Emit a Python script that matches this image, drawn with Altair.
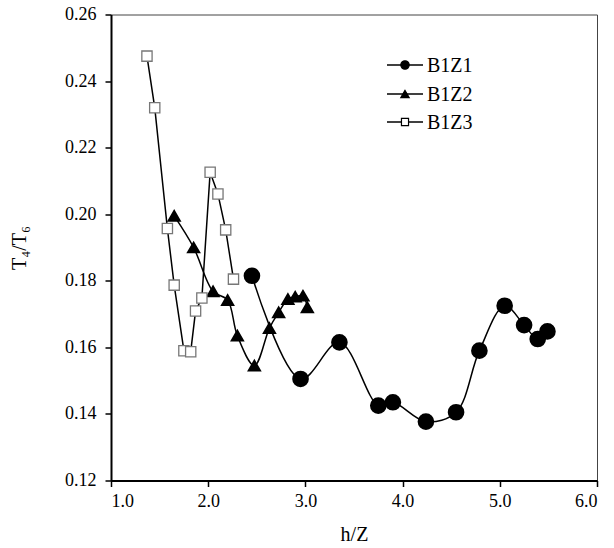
import altair as alt
import pandas as pd

# Series read as h/Z against T4/T6
b1z1_h = [2.45, 2.95, 3.35, 3.75, 3.90, 4.24, 4.55, 4.79, 5.05, 5.25, 5.39, 5.49]
b1z1_t = [0.1815, 0.1505, 0.1615, 0.1425, 0.1435, 0.1377, 0.1405, 0.1590, 0.1725, 0.1667, 0.1625, 0.1648]

b1z2_h = [1.65, 1.85, 2.05, 2.20, 2.30, 2.475, 2.63, 2.725, 2.82, 2.895, 2.975, 3.02]
b1z2_t = [0.1995, 0.1900, 0.1768, 0.1742, 0.1635, 0.1545, 0.1658, 0.1705, 0.1745, 0.1752, 0.1755, 0.1720]

b1z3_h = [1.37, 1.45, 1.58, 1.65, 1.75, 1.82, 1.87, 1.935, 2.02, 2.10, 2.18, 2.26]
b1z3_t = [0.2475, 0.2320, 0.1957, 0.1787, 0.1590, 0.1587, 0.1709, 0.1748, 0.2126, 0.2061, 0.1953, 0.1805]

x_ticks = [1.0, 2.0, 3.0, 4.0, 5.0, 6.0]
y_ticks = [0.12, 0.14, 0.16, 0.18, 0.20, 0.22, 0.24, 0.26]
series_names = ["B1Z1", "B1Z2", "B1Z3"]

FONT = "Liberation Serif"
W, H = 486, 466


def table(name, hs, ts):
    return pd.DataFrame({"series": name, "h": hs, "t": ts, "idx": range(len(hs))})


d1 = table("B1Z1", b1z1_h, b1z1_t)
d2 = table("B1Z2", b1z2_h, b1z2_t)
d3 = table("B1Z3", b1z3_h, b1z3_t)

x_enc = alt.X(
    "h:Q",
    scale=alt.Scale(domain=[1, 6], nice=False, zero=False),
    axis=alt.Axis(
        values=x_ticks, format=".1f", title="h/Z", grid=False,
        domainColor="black", domainWidth=2, tickColor="black", tickWidth=1.5,
        tickSize=6, labelFont=FONT, labelFontSize=18, labelColor="black",
        labelPadding=6, titleFont=FONT, titleFontSize=20, titleFontWeight="normal",
        titleColor="black", titleY=60, titleBaseline="alphabetic",
    ),
)
y_enc = alt.Y(
    "t:Q",
    scale=alt.Scale(domain=[0.12, 0.26], nice=False, zero=False),
    axis=alt.Axis(
        values=y_ticks, format=".2f", title="T₄/T₆", grid=False,
        domainColor="black", domainWidth=2, tickColor="black", tickWidth=1.5,
        tickSize=6, labelFont=FONT, labelFontSize=18, labelColor="black",
        labelPadding=9, titleFont=FONT, titleFontSize=20, titleFontWeight="normal",
        titleColor="black", titleX=-92, titleY=H / 2, titleBaseline="middle",
        titleAngle=270,
    ),
)

line1 = alt.Chart(d1).mark_line(color="black", strokeWidth=1.5, interpolate="catmull-rom").encode(
    x=x_enc, y=y_enc, order="idx:O")
line2 = alt.Chart(d2).mark_line(color="black", strokeWidth=1.5, interpolate="catmull-rom").encode(
    x=x_enc, y=y_enc, order="idx:O")
line3 = alt.Chart(d3).mark_line(color="black", strokeWidth=1.5).encode(
    x=x_enc, y=y_enc, order="idx:O")

pts1 = alt.Chart(d1).mark_point(shape="circle", filled=True, fill="black", stroke="black",
                                size=215, opacity=1).encode(x=x_enc, y=y_enc)
pts2 = alt.Chart(d2).mark_point(shape="triangle-up", filled=True, fill="black", stroke="black",
                                size=125, opacity=1).encode(x=x_enc, y=y_enc)
pts3 = alt.Chart(d3).mark_point(shape="square", filled=True, fill="white", stroke="#777777",
                                strokeWidth=1.3, size=105, opacity=1).encode(x=x_enc, y=y_enc)

# Legend: a short line with the series marker, and its name
legend_rows = [50.5, 79.5, 107.5]
legend_shapes = ["circle", "triangle-up", "square"]
legend_fill = ["black", "black", "white"]
legend_size = [70, 70, 50]
legend_df = pd.DataFrame({"name": series_names})
legend_layers = []
for i, name in enumerate(series_names):
    row = legend_df[legend_df["name"] == name]
    base = alt.Chart(row)
    legend_layers.append(base.mark_rule(color="black", strokeWidth=1.5).encode(
        x=alt.value(276), x2=alt.value(312), y=alt.value(legend_rows[i])))
    legend_layers.append(base.mark_point(shape=legend_shapes[i], filled=True,
                                         fill=legend_fill[i], stroke="black", strokeWidth=1.2,
                                         size=legend_size[i], opacity=1).encode(
        x=alt.value(294), y=alt.value(legend_rows[i])))
    legend_layers.append(base.mark_text(align="left", baseline="middle", font=FONT,
                                        fontSize=20, color="black").encode(
        x=alt.value(316), y=alt.value(legend_rows[i] + 1), text="name:N"))

chart = alt.layer(line1, line2, line3, pts1, pts2, pts3, *legend_layers).properties(
    width=W, height=H,
    autosize=alt.AutoSizeParams(type="none"),
    padding={"left": 111, "top": 14.5, "right": 17, "bottom": 67.5},
    background="white",
).configure_view(stroke="#444444", strokeWidth=1)

chart.save("out.html", embed_options={"renderer": "svg", "actions": False})
